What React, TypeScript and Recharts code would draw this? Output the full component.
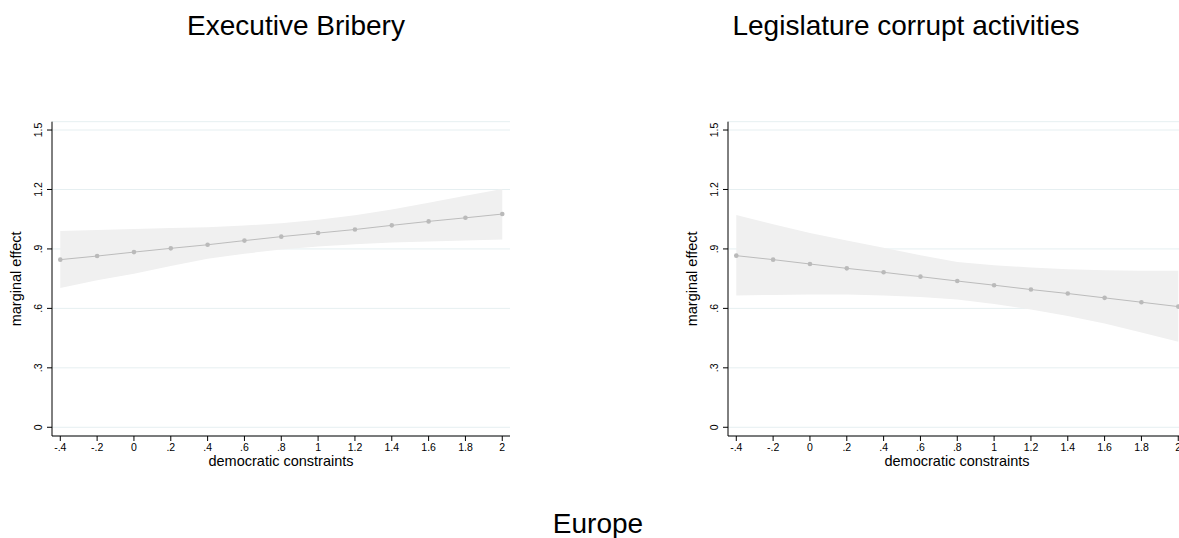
import { ComposedChart, Area, Line, XAxis, YAxis, CartesianGrid } from 'recharts'

// democratic constraints (x) and tick labels, Stata style
const xValues = [-0.4, -0.2, 0, 0.2, 0.4, 0.6, 0.8, 1, 1.2, 1.4, 1.6, 1.8, 2]
const xTickLabels = ['-.4', '-.2', '0', '.2', '.4', '.6', '.8', '1', '1.2', '1.4', '1.6', '1.8', '2']
const yTicks = [0, 0.3, 0.6, 0.9, 1.2, 1.5]
const yTickLabels = ['0', '.3', '.6', '.9', '1.2', '1.5']

// Executive Bribery — marginal effect and 95% CI
const briberyMean = [0.846, 0.864, 0.884, 0.903, 0.921, 0.942, 0.962, 0.98, 0.998, 1.019, 1.039, 1.057, 1.076]
const briberyLow = [0.703, 0.742, 0.775, 0.814, 0.85, 0.876, 0.897, 0.912, 0.924, 0.932, 0.938, 0.943, 0.948]
const briberyHigh = [0.99, 0.995, 1.0, 1.005, 1.01, 1.018, 1.03, 1.047, 1.07, 1.099, 1.133, 1.168, 1.203]

// Legislature corrupt activities — marginal effect and 95% CI
const legisMean = [0.866, 0.846, 0.824, 0.802, 0.782, 0.76, 0.738, 0.717, 0.695, 0.675, 0.653, 0.631, 0.609]
const legisLow = [0.665, 0.668, 0.67, 0.67, 0.665, 0.658, 0.645, 0.622, 0.594, 0.562, 0.524, 0.478, 0.431]
const legisHigh = [1.071, 1.025, 0.98, 0.942, 0.906, 0.868, 0.834, 0.818, 0.806, 0.797, 0.792, 0.79, 0.79]

const FONT = '"Liberation Sans", Arial, Helvetica, sans-serif'

function buildRows(mean: number[], low: number[], high: number[]) {
  return xValues.map((x, i) => ({ x, mean: mean[i], ci: [low[i], high[i]] }))
}

function YTick(props: any) {
  const { x, y, payload, index } = props
  return (
    <text transform={`translate(${x - 3.5},${y}) rotate(-90)`} textAnchor="middle" fontSize={10.5} fill="#000" fontFamily={FONT}>
      {yTickLabels[index] ?? payload.value}
    </text>
  )
}

function YLabel(props: any) {
  const vb = props.viewBox || {}
  const cy = vb.y + vb.height / 2
  return (
    <text transform={`translate(20.7,${cy}) rotate(-90)`} textAnchor="middle" fontSize={14.5} fill="#000" fontFamily={FONT}>
      marginal effect
    </text>
  )
}

function XLabel(props: any) {
  const vb = props.viewBox || {}
  return (
    <text x={vb.x + vb.width / 2} y={466} textAnchor="middle" fontSize={14.5} fill="#000" fontFamily={FONT}>
      democratic constraints
    </text>
  )
}

function MarginsPlot({ rows }: { rows: any[] }) {
  return (
    <ComposedChart width={520} height={480} data={rows} margin={{ top: 121.7, right: 10, left: 0, bottom: 14 }}>
      <CartesianGrid vertical={false} stroke="#e6eff1" strokeWidth={1} />
      <XAxis
        dataKey="x"
        type="number"
        domain={[-0.445, 2.042]}
        ticks={xValues}
        interval={0}
        allowDataOverflow
        height={30}
        tickSize={5}
        tickMargin={3}
        tick={{ fontSize: 10.5, fill: '#000', fontFamily: FONT }}
        tickFormatter={(v: number) => xTickLabels[xValues.indexOf(v)] ?? String(v)}
        axisLine={{ stroke: '#000' }}
        tickLine={{ stroke: '#000' }}
        label={<XLabel />}
      />
      <YAxis
        type="number"
        domain={[-0.044, 1.542]}
        ticks={yTicks}
        interval={0}
        allowDataOverflow
        width={52}
        tickSize={5}
        tickMargin={2}
        tick={<YTick />}
        axisLine={{ stroke: '#000' }}
        tickLine={{ stroke: '#000' }}
        label={<YLabel />}
      />
      <Area dataKey="ci" type="linear" fill="#f0f0f0" fillOpacity={1} stroke="none" isAnimationActive={false} />
      <Line
        dataKey="mean"
        type="linear"
        stroke="#bcbcbc"
        strokeWidth={1}
        dot={{ r: 2.3, fill: '#bababa', stroke: 'none' }}
        isAnimationActive={false}
      />
    </ComposedChart>
  )
}

export default function App() {
  const bribery = buildRows(briberyMean, briberyLow, briberyHigh)
  const legis = buildRows(legisMean, legisLow, legisHigh)
  return (
    <div style={{ position: 'absolute', left: 0, top: 0, width: 1179, height: 538, overflow: 'hidden', background: '#fff', fontFamily: FONT }}>
      <div style={{ position: 'absolute', left: 0, top: 0 }}>
        <MarginsPlot rows={bribery} />
      </div>
      <div style={{ position: 'absolute', left: 675.7, top: 0 }}>
        <MarginsPlot rows={legis} />
      </div>
      <svg width={1179} height={538} style={{ position: 'absolute', left: 0, top: 0, pointerEvents: 'none' }}>
        <text x={296} y={35} textAnchor="middle" fontSize={28} fill="#000" fontFamily={FONT}>Executive Bribery</text>
        <text x={906} y={35} textAnchor="middle" fontSize={28} fill="#000" fontFamily={FONT}>Legislature corrupt activities</text>
        <text x={598} y={533} textAnchor="middle" fontSize={28} fill="#000" fontFamily={FONT}>Europe</text>
      </svg>
    </div>
  )
}
